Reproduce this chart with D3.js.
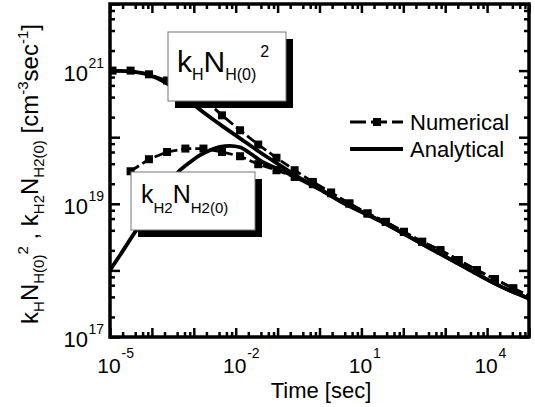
<!DOCTYPE html>
<html lang="en">
<head>
<meta charset="UTF-8">
<title>Rate vs time</title>
<style>
    body { margin: 0; background: #fff; }
    svg { display: block; font-family: "Liberation Sans", Arial, sans-serif; }
    .axis path { display: none; }
    .axis line { stroke: #000; stroke-width: 2.5; }
</style>
<script src="https://cdn.jsdelivr.net/npm/d3@7"></script>
</head>
<body>
<svg id="chart" width="535" height="407"></svg>
<script>
// numerical solution (one square per point)
var numTime = [1.15e-5, 3.1e-5, 8.5e-5, 2.3e-4, 6.3e-4, 1.7e-3, 4.7e-3, 1.27e-2, 3.45e-2, 9.4e-2, 0.255, 0.695,
               1.89, 5.15, 14.0, 38.1, 103.5, 282, 767, 2090, 5680, 15450, 42050, 114500];
var numH  = [1.0e21, 1.0e21, 8.8e20, 7.1e20, 5.4e20, 3.8e20, 2.13e20, 1.27e20, 7.75e19, 4.91e19, 3.19e19, 2.13e19,
             1.48e19, 1.01e19, 7.16e18, 5.35e18, 3.79e18, 2.69e18, 2.01e18, 1.43e18, 1.01e18, 7.41e17, 5.37e17, 3.98e17];
var numH2 = [null, 3.08e19, 4.67e19, 6.0e19, 6.75e19, 6.75e19, 6.0e19, 5.18e19, 3.93e19, 3.19e19, 2.53e19, 1.97e19,
             1.44e19, 1.01e19, 7.16e18, 5.35e18, 3.79e18, 2.69e18, 2.01e18, 1.43e18, 1.01e18, 7.41e17, 5.37e17, 3.98e17];

// analytical solution
var anaTimeH = [1e-5, 3.0e-5, 9.0e-5, 2.06e-4, 4.69e-4, 1.19e-3, 4.22e-3, 1.27e-2, 3.8e-2, 0.114, 0.343, 1.03,
                3.08, 27.8, 251, 2256, 20300, 1e5];
var anaH = [1.0e21, 9.7e20, 8.5e20, 6.65e20, 4.71e20, 2.81e20, 1.56e20, 9.6e19, 5.94e19, 3.78e19, 2.42e19, 1.66e19,
            1.1e19, 5.55e18, 2.6e18, 1.22e18, 5.8e17, 3.78e17];
var anaTimeH2 = [1e-5, 1.73e-5, 3.95e-5, 9.0e-5, 2.06e-4, 4.2e-4, 8.1e-4, 1.41e-3, 2.44e-3, 4.22e-3, 7.3e-3, 1.27e-2,
                 2.19e-2, 3.8e-2, 0.114, 0.343, 1.03, 3.08, 27.8, 251, 2256, 20300, 1e5];
var anaH2 = [1.01e18, 1.69e18, 3.75e18, 8.0e18, 1.71e19, 2.98e19, 4.2e19, 5.36e19, 6.37e19, 7.18e19, 7.43e19, 7.06e19,
             5.74e19, 4.5e19, 3.24e19, 2.34e19, 1.64e19, 1.1e19, 5.55e18, 2.6e18, 1.22e18, 5.8e17, 3.78e17];

// tick labels
var xLabelTicks = [1e-5, 1e-2, 1e1, 1e4];
var xLabelExp = ["-5", "-2", "1", "4"];
var yLabelTicks = [1e17, 1e19, 1e21];
var yLabelExp = ["17", "19", "21"];

var svg = d3.select("#chart");
var pLeft = 110, pRight = 529, pTop = 4, pBottom = 337;

var x = d3.scaleLog().domain([1e-5, 1e5]).range([pLeft, pRight]);
var y = d3.scaleLog().domain([1e17, 1e22]).range([pBottom, pTop]);

// decade and minor ticks
var decX = d3.range(-5, 6).map(function (e) { return Math.pow(10, e); });
var decY = d3.range(17, 23).map(function (e) { return Math.pow(10, e); });
function minors(decs, dom) {
    var out = [];
    decs.forEach(function (d) {
        [2, 4, 6, 8].forEach(function (m) { if (d * m < dom[1]) out.push(d * m); });
    });
    return out;
}
var minX = minors(decX, x.domain());
var minY = minors(decY, y.domain());

function addAxis(axis, tr) {
    svg.append("g").attr("class", "axis").attr("transform", tr).call(axis);
}
addAxis(d3.axisBottom(x).tickValues(decX).tickSize(-9).tickFormat(""), "translate(0," + pBottom + ")");
addAxis(d3.axisBottom(x).tickValues(minX).tickSize(-5).tickFormat(""), "translate(0," + pBottom + ")");
addAxis(d3.axisTop(x).tickValues(decX).tickSize(-9).tickFormat(""), "translate(0," + pTop + ")");
addAxis(d3.axisTop(x).tickValues(minX).tickSize(-5).tickFormat(""), "translate(0," + pTop + ")");
addAxis(d3.axisLeft(y).tickValues(decY).tickSize(-10).tickFormat(""), "translate(" + pLeft + ",0)");
addAxis(d3.axisLeft(y).tickValues(minY).tickSize(-5).tickFormat(""), "translate(" + pLeft + ",0)");
addAxis(d3.axisRight(y).tickValues(decY).tickSize(-10).tickFormat(""), "translate(" + pRight + ",0)");
addAxis(d3.axisRight(y).tickValues(minY).tickSize(-5).tickFormat(""), "translate(" + pRight + ",0)");

svg.append("clipPath").attr("id", "plotclip")
    .append("rect").attr("x", pLeft).attr("y", pTop).attr("width", pRight - pLeft).attr("height", pBottom - pTop);

var plot = svg.append("g").attr("clip-path", "url(#plotclip)");

function pairs(ts, vs) {
    return ts.map(function (t, i) { return [t, vs[i]]; }).filter(function (p) { return p[1] != null; });
}

var smooth = d3.line().x(function (d) { return x(d[0]); }).y(function (d) { return y(d[1]); })
    .curve(d3.curveMonotoneX);
var straight = d3.line().x(function (d) { return x(d[0]); }).y(function (d) { return y(d[1]); });

// analytical curves
[pairs(anaTimeH, anaH), pairs(anaTimeH2, anaH2)].forEach(function (s) {
    plot.append("path").datum(s).attr("d", smooth)
        .attr("fill", "none").attr("stroke", "#000").attr("stroke-width", 3.8);
});

// numerical curves
[pairs(numTime, numH), pairs(numTime, numH2)].forEach(function (s) {
    plot.append("path").datum(s).attr("d", straight)
        .attr("fill", "none").attr("stroke", "#000").attr("stroke-width", 2.8)
        .attr("stroke-dasharray", "10,4");
    plot.selectAll(null).data(s).enter().append("rect")
        .attr("x", function (d) { return x(d[0]) - 4; })
        .attr("y", function (d) { return y(d[1]) - 4; })
        .attr("width", 8).attr("height", 8).attr("fill", "#000");
});

// frame
svg.append("rect").attr("x", pLeft).attr("y", pTop).attr("width", pRight - pLeft).attr("height", pBottom - pTop)
    .attr("fill", "none").attr("stroke", "#000").attr("stroke-width", 3.5);

// text with sub/superscripts: parts = [text, size, shift, dx]
function rich(g, parts) {
    var prev = 0;
    parts.forEach(function (p) {
        var ts = g.append("tspan").text(p[0]).attr("font-size", p[1]).attr("dy", p[2] - prev);
        if (p[3]) ts.attr("dx", p[3]);
        prev = p[2];
    });
    return g;
}

// label boxes
function labelBox(bx, by, bw, bh) {
    svg.append("rect").attr("x", bx + 7).attr("y", by + 7).attr("width", bw).attr("height", bh).attr("fill", "#000");
    svg.append("rect").attr("x", bx).attr("y", by).attr("width", bw).attr("height", bh)
        .attr("fill", "#fff").attr("stroke", "#777").attr("stroke-width", 1);
}
labelBox(168, 32, 118, 69);
rich(svg.append("text").attr("x", 177).attr("y", 72), [
    ["k", 30, 0], ["H", 16, 8], ["N", 30, 0], ["H(0)", 16, 8], ["2", 16, -15, 4]
]);
labelBox(131, 172, 124, 58);
rich(svg.append("text").attr("x", 141).attr("y", 203), [
    ["k", 25, 0], ["H2", 15, 10], ["N", 25, 0], ["H2(0)", 15, 10]
]);

// tick labels
xLabelTicks.forEach(function (t, i) {
    svg.append("text").attr("x", x(t) - 1).attr("y", 373).attr("text-anchor", "middle")
        .attr("font-size", 21).text("10");
    svg.append("text").attr("x", x(t) + 11.5).attr("y", 358).attr("font-size", 14).text(xLabelExp[i]);
});
yLabelTicks.forEach(function (v, i) {
    svg.append("text").attr("x", 88).attr("y", y(v) + 10).attr("text-anchor", "end")
        .attr("font-size", 22).text("10");
    svg.append("text").attr("x", 88.5).attr("y", y(v) - 3).attr("font-size", 14).text(yLabelExp[i]);
});

// axis titles
svg.append("text").attr("x", 321).attr("y", 398).attr("text-anchor", "middle")
    .attr("font-size", 22).text("Time [sec]");
rich(svg.append("text").attr("text-anchor", "middle").attr("transform", "translate(38,174) rotate(-90)"), [
    ["k", 24, 0], ["H", 15, 6], ["N", 24, 0], ["H(0)", 15, 6], ["2", 15, -10], [" , ", 24, 0],
    ["k", 24, 0], ["H2", 15, 6], ["N", 24, 0], ["H2(0)", 15, 6], [" [cm", 24, 0], ["-3", 15, -10],
    ["sec", 24, 0], ["-1", 15, -10], ["]", 24, 0]
]);

// legend
var lg = svg.append("g");
lg.append("line").attr("x1", 350).attr("x2", 403).attr("y1", 122).attr("y2", 122)
    .attr("stroke", "#000").attr("stroke-width", 2.8).attr("stroke-dasharray", "16,5");
lg.append("rect").attr("x", 373).attr("y", 118).attr("width", 8).attr("height", 8).attr("fill", "#000");
lg.append("text").attr("x", 410).attr("y", 130).attr("font-size", 22).text("Numerical");
lg.append("line").attr("x1", 350).attr("x2", 403).attr("y1", 149).attr("y2", 149)
    .attr("stroke", "#000").attr("stroke-width", 3.8);
lg.append("text").attr("x", 410).attr("y", 157).attr("font-size", 22).text("Analytical");
</script>
</body>
</html>
